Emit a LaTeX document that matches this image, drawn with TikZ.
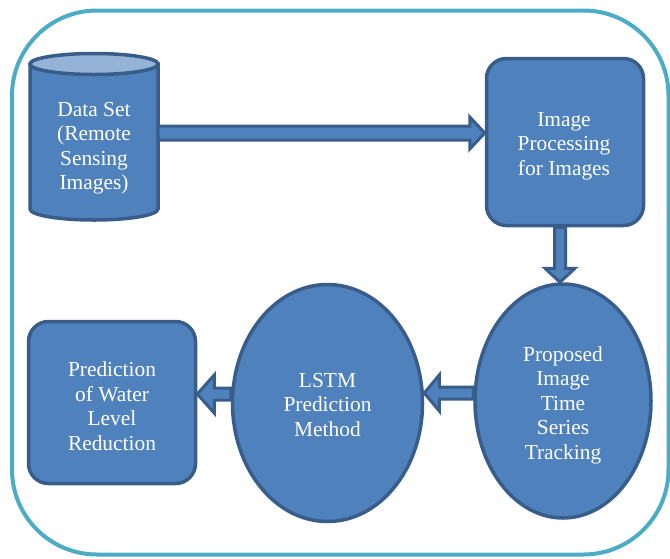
\documentclass[tikz,border=0pt]{standalone}
\usepackage{fontspec}
\setmainfont{Liberation Serif}
\usetikzlibrary{shapes.geometric,calc}
\definecolor{boxfill}{RGB}{79,129,189}
\definecolor{boxline}{RGB}{56,93,138}
\definecolor{cyltop}{RGB}{149,179,215}
\definecolor{frame}{RGB}{75,172,198}
\tikzset{
  lbl/.style={text=white, align=center, font=\fontsize{21.4}{24.5}\selectfont, inner sep=0pt},
  rbox/.style={draw=boxline, fill=boxfill, line width=3.5pt, rounded corners=20pt, inner sep=0pt},
  oval/.style={ellipse, draw=boxline, fill=boxfill, line width=3.5pt, inner sep=0pt},
  barrow/.style={draw=boxline, fill=boxfill, line width=3pt, line join=miter},
}
\begin{document}
\begin{tikzpicture}[x=1pt,y=-1pt]
\useasboundingbox (0,0) rectangle (670,558);
% outer frame
\draw[frame, line width=4pt, rounded corners=85pt] (12,10.5) rectangle (668.5,554.5);

% cylinder (data set)
\node[minimum width=128pt, minimum height=167pt, inner sep=0pt] (ds) at (94,137) {};
\draw[draw=boxline, fill=boxfill, line width=3.5pt]
  (30,64) -- (30,209) arc[start angle=180, end angle=360, x radius=64pt, y radius=11pt]
  -- (158,64) -- cycle;
\draw[draw=boxline, fill=cyltop, line width=3.5pt] (94,64) ellipse [x radius=64pt, y radius=10.5pt];
\node[lbl] (dst) at (94,148) {Data Set\\(Remote\\Sensing\\Images)};

% other shapes
\node[rbox, minimum width=157pt, minimum height=167pt] (ip) at (565,142) {};
\node[oval, minimum width=176pt, minimum height=234pt] (e1) at (563,401) {};
\node[oval, minimum width=190pt, minimum height=237pt] (e2) at (327.5,403) {};
\node[rbox, minimum width=167pt, minimum height=162pt] (pb) at (112,402.5) {};

% texts
\node[lbl] (ipt) at ($(ip.center)+(-1,4)$) {Image\\Processing\\for Images};
\node[lbl] (e1t) at ($(e1.center)+(0,4)$) {Proposed\\Image\\Time\\Series\\Tracking};
\node[lbl] (e2t) at ($(e2.center)+(0,2)$) {LSTM\\Prediction\\Method};
\node[lbl] (pbt) at ($(pb.center)+(0,3.5)$) {Prediction\\of Water\\Level\\Reduction};

% arrow 1: data set -> image processing
\draw[barrow] let \p1=($(ds.east)+(0,-4)$), \p2=($(ip.west)+(0,-9)$) in
  (\x1,\y1+7pt) -- (\x2-15pt,\y1+7pt) -- (\x2-15pt,\y1+16pt) -- (\x2,\y1)
  -- (\x2-15pt,\y1-16pt) -- (\x2-15pt,\y1-7pt) -- (\x1,\y1-7pt) -- cycle;
% arrow 2: image processing -> proposed
\draw[barrow] let \p1=($(ip.south)+(-5,0)$), \p2=($(e1.north)+(-3,0)$) in
  (\x1-5.5pt,\y1) -- (\x1-5.5pt,\y2+14pt) -- (\x1-15pt,\y2+14pt) -- (\x1,\y2)
  -- (\x1+15pt,\y2+14pt) -- (\x1+5.5pt,\y2+14pt) -- (\x1+5.5pt,\y1) -- cycle;
% arrow 3: proposed -> LSTM
\draw[barrow] let \p1=($(e1.west)+(0,-8)$), \p2=($(e2.east)+(0,-10)$) in
  (\x1,\y1+6pt) -- (\x2+15pt,\y1+6pt) -- (\x2+15pt,\y1+18pt) -- (\x2,\y1)
  -- (\x2+15pt,\y1-18pt) -- (\x2+15pt,\y1-6pt) -- (\x1,\y1-6pt) -- cycle;
% arrow 4: LSTM -> prediction
\draw[barrow] let \p1=($(e2.west)+(0,-9)$), \p2=($(pb.east)+(0,-8.5)$) in
  (\x1,\y1+6pt) -- (\x2+17pt,\y1+6pt) -- (\x2+17pt,\y1+19pt) -- (\x2,\y1)
  -- (\x2+17pt,\y1-19pt) -- (\x2+17pt,\y1-6pt) -- (\x1,\y1-6pt) -- cycle;
\end{tikzpicture}
\end{document}
